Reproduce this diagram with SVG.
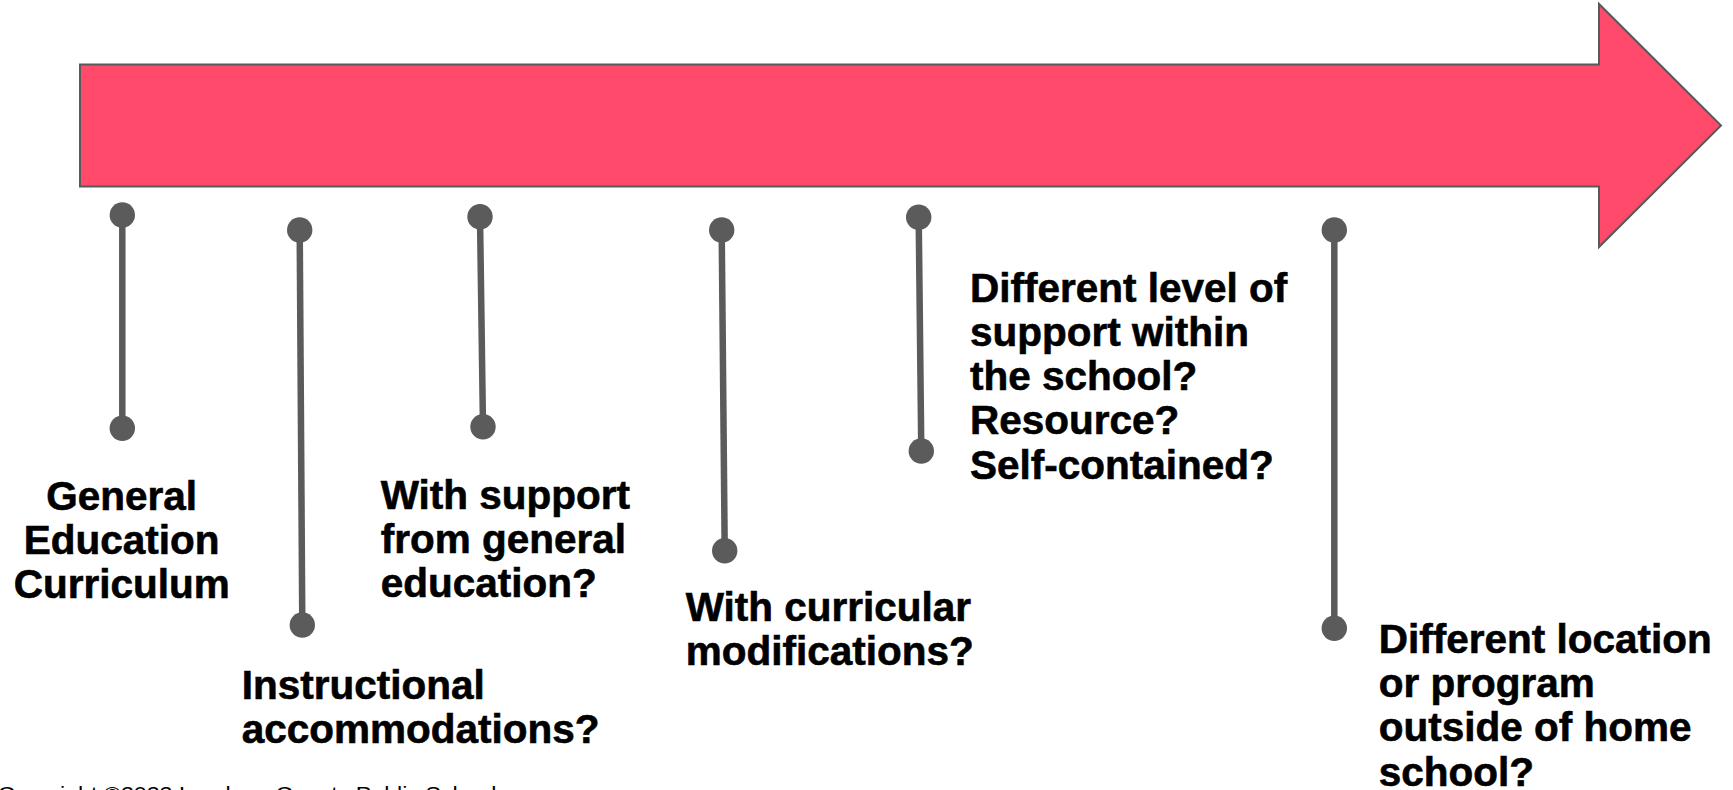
<svg xmlns="http://www.w3.org/2000/svg" width="1733" height="790" viewBox="0 0 1733 790">
<style>
.lbl{font-family:"Liberation Sans",Arial,sans-serif;font-weight:700;font-size:40.5px;fill:#000;stroke:#000;stroke-width:0.6}
.conn line{stroke:#5b5b5b;stroke-width:6.5;stroke-linecap:butt}
.conn circle{fill:#5b5b5b}
.copy{font-family:"Liberation Sans",Arial,sans-serif;font-size:21px;fill:#000}
</style>
<rect x="0" y="0" width="1733" height="790" fill="#fff"/>
<g id="arrow">
<polygon points="80,64.5 1599,64.5 1599,4 1721,125.5 1599,247 1599,186.5 80,186.5" fill="#ff4a6b" stroke="#595959" stroke-width="2" stroke-linejoin="miter"/>
</g>
<g id="connectors" class="conn">
<line x1="122.3" y1="215" x2="122.3" y2="428.3"/>
<circle cx="122.3" cy="215" r="12.7"/><circle cx="122.3" cy="428.3" r="12.7"/>
<line x1="299.7" y1="230" x2="302.3" y2="625"/>
<circle cx="299.7" cy="230" r="12.7"/><circle cx="302.3" cy="625" r="12.7"/>
<line x1="480" y1="216.7" x2="483" y2="426.7"/>
<circle cx="480" cy="216.7" r="12.7"/><circle cx="483" cy="426.7" r="12.7"/>
<line x1="721.7" y1="230" x2="724.7" y2="550.7"/>
<circle cx="721.7" cy="230" r="12.7"/><circle cx="724.7" cy="550.7" r="12.7"/>
<line x1="918.7" y1="217.3" x2="921.3" y2="451"/>
<circle cx="918.7" cy="217.3" r="12.7"/><circle cx="921.3" cy="451" r="12.7"/>
<line x1="1334.3" y1="230" x2="1334.3" y2="628.3"/>
<circle cx="1334.3" cy="230" r="12.7"/><circle cx="1334.3" cy="628.3" r="12.7"/>
</g>
<g id="node-general">
<text class="lbl" text-anchor="middle"><tspan x="121.7" y="510">General</tspan><tspan x="121.7" y="554">Education</tspan><tspan x="121.7" y="598">Curriculum</tspan></text>
</g>
<g id="node-instructional">
<text class="lbl"><tspan x="241.7" y="698.5">Instructional</tspan><tspan x="241.7" y="743">accommodations?</tspan></text>
</g>
<g id="node-support">
<text class="lbl"><tspan x="380.7" y="509">With support</tspan><tspan x="380.7" y="553">from general</tspan><tspan x="380.7" y="597">education?</tspan></text>
</g>
<g id="node-curricular">
<text class="lbl"><tspan x="685.7" y="620.7">With curricular</tspan><tspan x="685.7" y="665">modifications?</tspan></text>
</g>
<g id="node-level">
<text class="lbl"><tspan x="970" y="301.5">Different level of</tspan><tspan x="970" y="345.8">support within</tspan><tspan x="970" y="390.1">the school?</tspan><tspan x="970" y="434.4">Resource?</tspan><tspan x="970" y="478.7">Self-contained?</tspan></text>
</g>
<g id="node-location">
<text class="lbl"><tspan x="1378.7" y="652.7">Different location</tspan><tspan x="1378.7" y="697">or program</tspan><tspan x="1378.7" y="741.3">outside of home</tspan><tspan x="1378.7" y="785.6">school?</tspan></text>
</g>
<text class="copy" x="-2" y="801" textLength="510" lengthAdjust="spacingAndGlyphs">Copyright ©2022 Loudoun County Public Schools</text>
</svg>
